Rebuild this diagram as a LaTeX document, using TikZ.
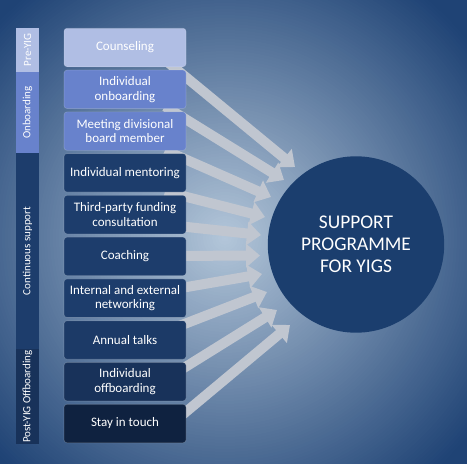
\documentclass[tikz,border=0pt]{standalone}
\usepackage{fontspec}
\setmainfont{Carlito}
\usetikzlibrary{arrows.meta}
\definecolor{bgdark}{RGB}{31,67,117}
\definecolor{bglight}{RGB}{180,199,218}
\definecolor{arrowc}{RGB}{192,198,208}
\definecolor{lavc}{RGB}{176,190,228}
\definecolor{midc}{RGB}{104,130,204}
\definecolor{navyc}{RGB}{29,61,108}
\definecolor{navyd}{RGB}{24,50,90}
\definecolor{navye}{RGB}{15,34,64}
\definecolor{circc}{RGB}{27,62,110}
\begin{document}
\begin{tikzpicture}[x=1pt,y=-1pt,
  boxstyle/.style={rounded corners=3pt, minimum width=122pt, minimum height=38.5pt,
    inner sep=1pt, align=center, text=white, draw=white, draw opacity=0.18, line width=0.7pt,
    font=\fontsize{13}{14.7}\selectfont},
  barseg/.style={rotate=90, minimum height=23pt, inner sep=0pt, text=white,
    font=\fontsize{11}{12}\selectfont},
  bigarrow/.style={draw=arrowc, line width=10pt, -{Triangle[width=23pt,length=14pt]}},
  hub/.style={circle, fill=circc, minimum size=176.4pt, inner sep=0pt, align=center,
    text=white, font=\fontsize{19.4}{21.8}\selectfont}
]
\useasboundingbox (0,0) rectangle (467,464);
% background radial gradient
\begin{scope}
\clip (0,0) rectangle (467,464);
\fill[bgdark] (0,0) rectangle (467,464);
\foreach \r in {346,343,...,0} {
  \pgfmathsetmacro\f{min(100,\r/315*100)}
  \fill[bgdark!\f!bglight] (225,238) circle[radius=\r pt];
}
\end{scope}

% arrow coordinates (start hidden behind boxes, tips near hub)
\coordinate (s1) at (165,59.9);  \coordinate (t1) at (295,167);
\coordinate (s2) at (165,106.4); \coordinate (t2) at (284,180);
\coordinate (s3) at (165,150.3); \coordinate (t3) at (271,197);
\coordinate (s4) at (165,191.4); \coordinate (t4) at (265,217);
\coordinate (s5) at (165,224.6); \coordinate (t5) at (261,235);
\coordinate (s6) at (165,256);   \coordinate (t6) at (260,255.5);
\coordinate (s7) at (165,290.8); \coordinate (t7) at (262,274);
\coordinate (s8) at (165,331.5); \coordinate (t8) at (267,292);
\coordinate (s9) at (165,379.7); \coordinate (t9) at (277,310);
\coordinate (s10) at (165,429.4); \coordinate (t10) at (290,325);
\foreach \i in {1,...,10} { \draw[bigarrow] (s\i) -- (t\i); }

% boxes
\node[boxstyle, fill=lavc]  (b1)  at (125,47.5)  {Counseling};
\node[boxstyle, fill=midc]  (b2)  at (125,89.3)  {Individual\\onboarding};
\node[boxstyle, fill=midc]  (b3)  at (125,131.1) {Meeting divisional\\board member};
\node[boxstyle, fill=navyc] (b4)  at (125,172.8) {Individual mentoring};
\node[boxstyle, fill=navyc] (b5)  at (125,214.6) {Third-party funding\\consultation};
\node[boxstyle, fill=navyc] (b6)  at (125,256.4) {Coaching};
\node[boxstyle, fill=navyc] (b7)  at (125,298.2) {Internal and external\\networking};
\node[boxstyle, fill=navyc!95!black] (b8)  at (125,340)   {Annual talks};
\node[boxstyle, fill=navyd] (b9)  at (125,381.7) {Individual\\offboarding};
\node[boxstyle, fill=navye] (b10) at (125,423.5) {Stay in touch};

% hub
\node[hub] (hub) at (356,244.5) {SUPPORT\\PROGRAMME\\FOR YIGS};

% phase bar
\node[barseg, fill=lavc, minimum width=44pt]  (p1) at (27.5,50)    {Pre-YIG};
\node[barseg, fill=midc, minimum width=81pt]  (p2) at (27.5,112.5) {Onboarding};
\node[barseg, fill=navyc, minimum width=196pt] (p3) at (27.5,251)  {Continuous support};
\node[barseg, fill=navyd, minimum width=95pt] (p4) at (27.5,396.5) {Post-YIG Offboarding};
\end{tikzpicture}
\end{document}
